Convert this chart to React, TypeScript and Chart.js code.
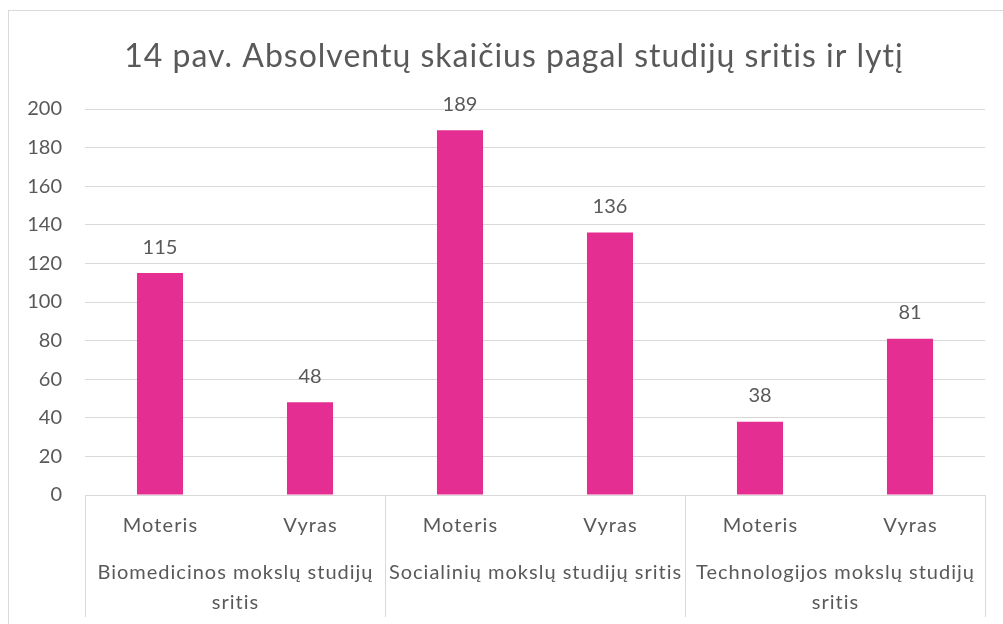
import React, { useEffect, useRef } from "react";
import { Chart, registerables } from "chart.js";

Chart.register(...registerables);

const TITLE = "14 pav. Absolventų skaičius pagal studijų sritis ir lytį";
const categories = ["Moteris", "Vyras", "Moteris", "Vyras", "Moteris", "Vyras"];
const groups: string[][] = [
  ["Biomedicinos mokslų studijų", "sritis"],
  ["Socialinių mokslų studijų sritis"],
  ["Technologijos mokslų studijų", "sritis"],
];
const groupSize = 2;
const values = [115, 48, 189, 136, 38, 81];
const yTicks = { min: 0, max: 200, step: 20 };

const FONT = "Lato, 'Open Sans', sans-serif";
const TEXT = "#595959";
const GRID = "#D9D9D9";
const BAR = "#E52E91";

const labelsPlugin = {
  id: "customLabels",
  afterDatasetsDraw(chart: any) {
    const ctx = chart.ctx;
    const meta = chart.getDatasetMeta(0);
    ctx.save();
    ctx.fillStyle = TEXT;
    ctx.font = `20px ${FONT}`;
    ctx.textAlign = "center";
    ctx.textBaseline = "middle";
    meta.data.forEach((bar: any, i: number) => {
      ctx.fillText(String(values[i]), bar.x, bar.y - 26);
    });
    ctx.restore();
  },
  afterDraw(chart: any) {
    const ctx = chart.ctx;
    const x = chart.scales.x;
    const area = chart.chartArea;
    const half = (x.getPixelForValue(1) - x.getPixelForValue(0)) / 2;
    ctx.save();
    // title
    ctx.fillStyle = TEXT;
    ctx.textAlign = "center";
    ctx.textBaseline = "middle";
    ctx.font = `32px ${FONT}`;
    (ctx as any).letterSpacing = "1px";
    ctx.fillText(TITLE, chart.width / 2 + 1, 46);

    ctx.strokeStyle = GRID;
    ctx.lineWidth = 1;
    ctx.beginPath();
    ctx.moveTo(area.left, Math.round(area.bottom) + 0.5);
    ctx.lineTo(area.right, Math.round(area.bottom) + 0.5);
    ctx.stroke();
    const bottomY = area.bottom + 122;
    for (let g = 0; g <= groups.length; g++) {
      const idx = g * groupSize;
      const px = Math.round(x.getPixelForValue(idx) - half) + 0.5;
      ctx.beginPath();
      ctx.moveTo(px, area.bottom);
      ctx.lineTo(px, bottomY);
      ctx.stroke();
    }
    ctx.font = `20px ${FONT}`;
    (ctx as any).letterSpacing = "1.1px";
    categories.forEach((c, i) => {
      ctx.fillText(c, x.getPixelForValue(i) + 0.5, area.bottom + 31);
    });
    (ctx as any).letterSpacing = "1px";
    groups.forEach((lines, g) => {
      const cx =
        (x.getPixelForValue(g * groupSize) + x.getPixelForValue(g * groupSize + groupSize - 1)) / 2;
      lines.forEach((ln, k) => {
        ctx.fillText(ln, cx + 0.5, area.bottom + 78 + k * 30);
      });
    });
    ctx.restore();
  },
};

export default function App() {
  const ref = useRef<HTMLCanvasElement>(null);
  useEffect(() => {
    if (!ref.current) return;
    const chart = new Chart(ref.current, {
      type: "bar",
      data: {
        labels: categories,
        datasets: [
          {
            data: values,
            backgroundColor: BAR,
            borderWidth: 0,
            categoryPercentage: 1,
            barPercentage: 0.307,
          },
        ],
      },
      options: {
        animation: false,
        responsive: true,
        maintainAspectRatio: false,
        layout: { padding: { left: 0, right: 32, top: 98, bottom: 144 } },
        plugins: {
          legend: { display: false },
          tooltip: { enabled: false },
          title: { display: false },
        },
        scales: {
          x: {
            ticks: { display: false },
            grid: { display: false },
            border: { display: false },
            afterFit: (s: any) => {
              s.height = 0;
            },
          },
          y: {
            min: yTicks.min,
            max: yTicks.max,
            ticks: {
              stepSize: yTicks.step,
              color: TEXT,
              padding: 23,
              font: { family: FONT, size: 20 },
            },
            grid: { color: GRID, drawTicks: false, lineWidth: 1 },
            border: { display: false },
            afterFit: (s: any) => {
              s.width = 76;
            },
          },
        },
      },
      plugins: [labelsPlugin],
    });
    return () => chart.destroy();
  }, []);
  return (
    <div
      style={{
        position: "absolute",
        left: 8,
        top: 10,
        width: 1008,
        height: 628,
        border: "1px solid #D9D9D9",
        background: "#fff",
        boxSizing: "content-box",
      }}
    >
      <canvas ref={ref} />
    </div>
  );
}
